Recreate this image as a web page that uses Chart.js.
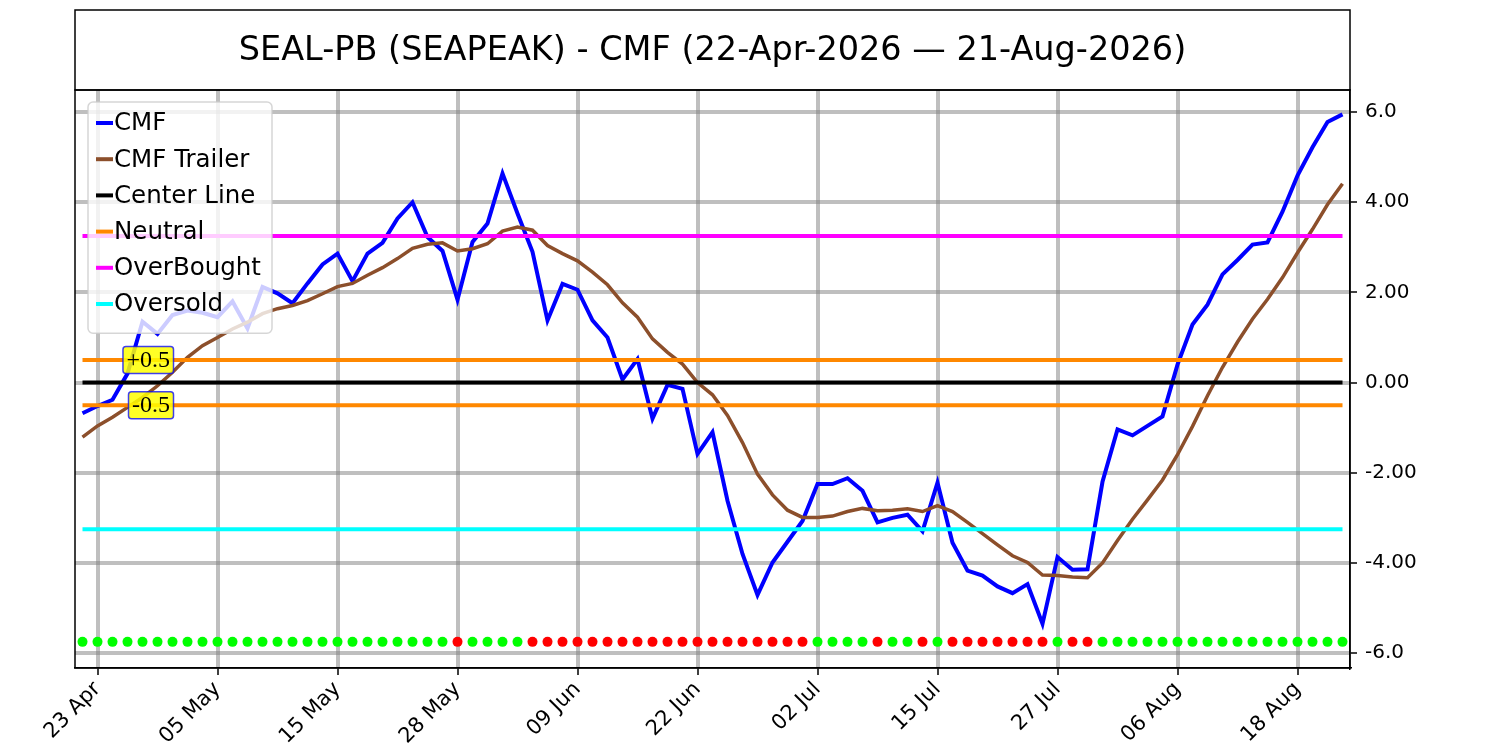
<!DOCTYPE html>
<html>
<head>
<meta charset="utf-8">
<title>SEAL-PB (SEAPEAK) - CMF</title>
<script src="https://cdn.jsdelivr.net/npm/chart.js@4.4.1/dist/chart.umd.min.js"></script>
<style>
    html, body { margin: 0; padding: 0; background: #ffffff; }
    #cmfChart { display: block; }
</style>
</head>
<body>
<canvas id="cmfChart" width="1500" height="750"></canvas>
<script>
// trading days 22-Apr-2026 .. 21-Aug-2026 (market holidays skipped)
var dateLabels = [
    "22 Apr", "23 Apr", "24 Apr", "27 Apr", "28 Apr", "29 Apr", "30 Apr", "01 May", "04 May", "05 May",
    "06 May", "07 May", "08 May", "11 May", "12 May", "13 May", "14 May", "15 May", "18 May", "19 May",
    "20 May", "21 May", "22 May", "26 May", "27 May", "28 May", "29 May", "01 Jun", "02 Jun", "03 Jun",
    "04 Jun", "05 Jun", "08 Jun", "09 Jun", "10 Jun", "11 Jun", "12 Jun", "15 Jun", "16 Jun", "17 Jun",
    "18 Jun", "22 Jun", "23 Jun", "24 Jun", "25 Jun", "26 Jun", "29 Jun", "30 Jun", "01 Jul", "02 Jul",
    "06 Jul", "07 Jul", "08 Jul", "09 Jul", "10 Jul", "13 Jul", "14 Jul", "15 Jul", "16 Jul", "17 Jul",
    "20 Jul", "21 Jul", "22 Jul", "23 Jul", "24 Jul", "27 Jul", "28 Jul", "29 Jul", "30 Jul", "31 Jul",
    "03 Aug", "04 Aug", "05 Aug", "06 Aug", "07 Aug", "10 Aug", "11 Aug", "12 Aug", "13 Aug", "14 Aug",
    "17 Aug", "18 Aug", "19 Aug", "20 Aug", "21 Aug"
];

// which labels get a tick + vertical grid line
var tickIndexes = [1, 9, 17, 25, 33, 41, 49, 57, 65, 73, 81];

var cmfValues = [
    -0.68, -0.52, -0.38, 0.20, 1.35, 1.08, 1.50, 1.60, 1.55, 1.45,
    1.80, 1.20, 2.12, 1.98, 1.76, 2.20, 2.62, 2.86, 2.25, 2.86,
    3.10, 3.64, 4.00, 3.23, 2.92, 1.84, 3.12, 3.53, 4.64, 3.75,
    2.90, 1.38, 2.19, 2.06, 1.38, 1.00, 0.07, 0.52, -0.80, -0.05,
    -0.14, -1.58, -1.10, -2.62, -3.80, -4.71, -3.99, -3.53, -3.07, -2.25,
    -2.25, -2.12, -2.40, -3.10, -3.00, -2.93, -3.30, -2.22, -3.55, -4.17,
    -4.28, -4.52, -4.67, -4.47, -5.35, -3.87, -4.15, -4.14, -2.20, -1.04,
    -1.17, -0.96, -0.75, 0.40, 1.29, 1.73, 2.40, 2.72, 3.06, 3.11,
    3.79, 4.59, 5.22, 5.78, 5.95
];

var trailerValues = [
    -1.21, -0.96, -0.77, -0.55, -0.33, -0.07, 0.23, 0.56, 0.82, 1.00,
    1.19, 1.34, 1.53, 1.64, 1.71, 1.82, 1.97, 2.13, 2.20, 2.38,
    2.55, 2.75, 2.98, 3.07, 3.10, 2.92, 2.97, 3.08, 3.36, 3.45,
    3.38, 3.04, 2.86, 2.70, 2.45, 2.17, 1.77, 1.45, 0.97, 0.67,
    0.41, 0.00, -0.27, -0.73, -1.33, -2.03, -2.49, -2.83, -2.99, -2.99,
    -2.96, -2.86, -2.79, -2.84, -2.83, -2.80, -2.86, -2.73, -2.86, -3.10,
    -3.35, -3.60, -3.84, -3.99, -4.27, -4.28, -4.31, -4.33, -4.00, -3.50,
    -3.03, -2.60, -2.16, -1.60, -0.97, -0.29, 0.34, 0.90, 1.41, 1.85,
    2.33, 2.88, 3.40, 3.95, 4.41
];

// 1 = green dot, 0 = red dot
var signalUp = [
    1, 1, 1, 1, 1, 1, 1, 1, 1, 1,
    1, 1, 1, 1, 1, 1, 1, 1, 1, 1,
    1, 1, 1, 1, 1, 0, 1, 1, 1, 1,
    0, 0, 0, 0, 0, 0, 0, 0, 0, 0,
    0, 0, 0, 0, 0, 0, 0, 0, 0, 1,
    1, 1, 1, 0, 1, 1, 0, 1, 0, 0,
    0, 0, 0, 0, 0, 1, 0, 0, 1, 1,
    1, 1, 1, 1, 1, 1, 1, 1, 1, 1,
    1, 1, 1, 1, 1
];

var centerLevel = 0;
var neutralLevel = 0.5;
var overBoughtLevel = 3.25;
var overSoldLevel = -3.25;
var signalLevel = -5.75;

var yTickValues = [-6, -4, -2, 0, 2, 4, 6];
var yTickLabels = ["-6.0", "-4.00", "-2.00", "0.00", "2.00", "4.00", "6.0"];

var titleText = "SEAL-PB (SEAPEAK) - CMF (22-Apr-2026 \u2014 21-Aug-2026)";

function flatLine(level) {
    return dateLabels.map(function () { return level; });
}

function refLine(label, level, color, inLegend) {
    return {
        label: label,
        data: flatLine(level),
        borderColor: color,
        borderWidth: 4,
        pointRadius: 0,
        fill: false,
        order: 1,
        inLegend: inLegend
    };
}

var greyGrid = "rgba(128,128,128,0.5)";

// frame round the plot and round the title
var framePlugin = {
    id: 'frame',
    afterDraw: function (chart) {
        var ctx = chart.ctx;
        var a = chart.chartArea;
        ctx.save();
        ctx.strokeStyle = '#000000';
        ctx.lineWidth = 1.5;
        ctx.strokeRect(a.left, a.top, a.right - a.left, a.bottom - a.top);
        ctx.strokeRect(a.left, 10, a.right - a.left, a.top - 10);
        ctx.restore();
    }
};

// the +0.5 / -0.5 tags
var tagPlugin = {
    id: 'neutralTags',
    afterDatasetsDraw: function (chart) {
        var ctx = chart.ctx;
        var xs = chart.scales.x;
        var ys = chart.scales.y;
        var right = xs.getPixelForValue(6) + 1;
        var tags = [["+0.5", neutralLevel], ["-0.5", -neutralLevel]];
        ctx.save();
        ctx.font = '24px "Liberation Serif", "DejaVu Serif", serif';
        ctx.textBaseline = 'middle';
        ctx.textAlign = 'right';
        tags.forEach(function (t) {
            var y = ys.getPixelForValue(t[1]);
            var w = ctx.measureText(t[0]).width + 7;
            var h = 27;
            ctx.beginPath();
            ctx.roundRect(right - w, y - h / 2, w, h, 3);
            ctx.fillStyle = 'rgba(255,255,0,0.85)';
            ctx.fill();
            ctx.lineWidth = 1.5;
            ctx.strokeStyle = 'rgba(0,0,255,0.75)';
            ctx.stroke();
            ctx.fillStyle = '#000000';
            ctx.fillText(t[0], right - 3.5, y + 1);
        });
        ctx.restore();
    }
};

// legend drawn inside the plot, top left
var innerLegend = {
    id: 'innerLegend',
    afterDraw: function (chart) {
        var ctx = chart.ctx;
        var a = chart.chartArea;
        var items = chart.data.datasets.filter(function (ds) { return ds.inLegend; });
        var x0 = a.left + 13, y0 = a.top + 12;
        var rowH = 36.2;
        var w = 184, h = 14 + rowH * items.length;
        ctx.save();
        ctx.beginPath();
        ctx.roundRect(x0, y0, w, h, 5);
        ctx.fillStyle = 'rgba(255,255,255,0.8)';
        ctx.fill();
        ctx.strokeStyle = 'rgba(204,204,204,0.8)';
        ctx.lineWidth = 1.5;
        ctx.stroke();
        ctx.font = '24.5px "DejaVu Sans", sans-serif';
        ctx.textBaseline = 'middle';
        ctx.textAlign = 'left';
        items.forEach(function (ds, i) {
            var cy = y0 + 21 + i * rowH;
            ctx.beginPath();
            ctx.moveTo(x0 + 8, cy);
            ctx.lineTo(x0 + 25, cy);
            ctx.strokeStyle = ds.borderColor;
            ctx.lineWidth = 4;
            ctx.stroke();
            ctx.fillStyle = '#000000';
            ctx.fillText(ds.label, x0 + 26, cy + 1);
        });
        ctx.restore();
    }
};

const ctx = document.getElementById('cmfChart').getContext('2d');
var cmfChart = new Chart(ctx, {
    type: 'line',
    data: {
        labels: dateLabels,
        datasets: [
            {
                label: 'Signal',
                data: flatLine(signalLevel),
                showLine: false,
                pointRadius: 5,
                pointHoverRadius: 5,
                pointBorderWidth: 0,
                pointBackgroundColor: signalUp.map(function (s) { return s ? '#00ff00' : '#ff0000'; }),
                order: 0,
                inLegend: false
            },
            {
                label: 'CMF',
                data: cmfValues,
                borderColor: '#0000ff',
                borderWidth: 4,
                pointRadius: 0,
                tension: 0,
                order: 3,
                inLegend: true
            },
            {
                label: 'CMF Trailer',
                data: trailerValues,
                borderColor: '#8c4f2b',
                borderWidth: 3.5,
                pointRadius: 0,
                tension: 0,
                order: 2,
                inLegend: true
            },
            refLine('Center Line', centerLevel, '#000000', true),
            refLine('Neutral', neutralLevel, '#ff8800', true),
            refLine('Neutral', -neutralLevel, '#ff8800', false),
            refLine('OverBought', overBoughtLevel, '#ff00ff', true),
            refLine('Oversold', overSoldLevel, '#00ffff', true)
        ]
    },
    options: {
        responsive: false,
        animation: false,
        layout: {
            padding: { top: 10, left: 75, right: 0, bottom: 0 }
        },
        scales: {
            x: {
                type: 'category',
                offset: true,
                afterBuildTicks: function (scale) {
                    scale.ticks = scale.ticks.filter(function (t) {
                        return tickIndexes.indexOf(t.value) >= 0;
                    });
                },
                afterFit: function (scale) {
                    scale.height = 82;
                },
                grid: {
                    color: greyGrid,
                    lineWidth: 4,
                    offset: false,
                    drawTicks: true,
                    tickLength: 7,
                    tickColor: '#000000',
                    tickWidth: 1.5
                },
                border: { display: true, color: '#000000', width: 1.5 },
                ticks: {
                    autoSkip: false,
                    minRotation: 45,
                    maxRotation: 45,
                    padding: 2,
                    color: '#000000',
                    font: { family: 'DejaVu Sans', size: 21 },
                    callback: function (val) {
                        return this.getLabelForValue(val);
                    }
                }
            },
            y: {
                position: 'right',
                min: -6.33,
                max: 6.49,
                afterBuildTicks: function (scale) {
                    scale.ticks = yTickValues.map(function (v) { return { value: v }; });
                },
                afterFit: function (scale) {
                    scale.width = 150;
                },
                grid: {
                    color: greyGrid,
                    lineWidth: 4,
                    drawTicks: true,
                    tickLength: 7,
                    tickColor: '#000000',
                    tickWidth: 1.5
                },
                border: { display: true, color: '#000000', width: 1.5 },
                ticks: {
                    padding: 8,
                    color: '#000000',
                    font: { family: 'DejaVu Sans', size: 20 },
                    callback: function (val) {
                        var k = yTickValues.indexOf(val);
                        return k >= 0 ? yTickLabels[k] : '';
                    }
                }
            }
        },
        plugins: {
            title: {
                display: true,
                fullSize: false,
                text: titleText,
                color: '#000000',
                font: { family: 'DejaVu Sans', size: 33.5, weight: 'normal', lineHeight: 1 },
                padding: { top: 25, bottom: 21.5 }
            },
            legend: { display: false },
            tooltip: { enabled: false }
        }
    },
    plugins: [tagPlugin, innerLegend, framePlugin]
});
</script>
</body>
</html>
